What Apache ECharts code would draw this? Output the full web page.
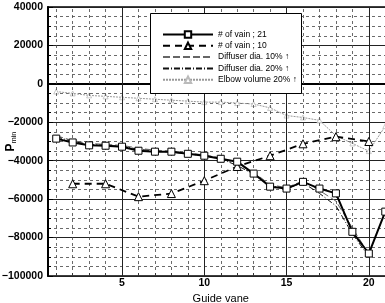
<!DOCTYPE html>
<html>
<head>
<meta charset="utf-8">
<script src="https://cdn.jsdelivr.net/npm/echarts@6/dist/echarts.min.js"></script>
<style>
  html, body { margin: 0; padding: 0; background: #fff; }
  #chart { width: 385px; height: 303px; }
</style>
</head>
<body>
<div id="chart"></div>
<script>
// guide vane index
const vanes = [1, 2, 3, 4, 5, 6, 7, 8, 9, 10, 11, 12, 13, 14, 15, 16, 17, 18, 19, 20, 21];
const vanesEven = [2, 4, 6, 8, 10, 12, 14, 16, 18, 20];
const vanesDiff = [1, 2, 3, 4, 5, 6, 7, 8, 9, 10, 11, 12, 13, 14, 15, 16, 17, 18, 19, 20];

// P_min values
const vain21 = [-28500, -30500, -32000, -32200, -32700, -34800, -35300, -35300, -36400, -37400,
  -39000, -40500, -46700, -53500, -54500, -51000, -54500, -57000, -77000, -88300, -66500];
const vain10 = [-52000, -52000, -58700, -57100, -50400, -43000, -37400, -31200, -27500, -30000];
const diff10 = [-27000, -29500, -31000, -31500, -32000, -33500, -34500, -35000, -36000, -37000,
  -38500, -41500, -46000, -52500, -54000, -50500, -55500, -61000, -75000, -88500];
const diff20 = [-27500, -30000, -31500, -32000, -32500, -34000, -35000, -35500, -36500, -37500,
  -39000, -42500, -47000, -53000, -54500, -51500, -57000, -63500, -78000, -90000];
const elbow = [-4000, -5000, -6000, -6500, -7000, -7500, -8000, -8500, -9000, -9500,
  -9500, -10000, -10500, -12500, -16500, -17500, -19000, -27000, -31000, -35000, -22000];

const xMajor = [5, 10, 15, 20];
const xMinor = vanes.filter(v => v % 5 !== 0);

const legendNames = ['# of vain ; 21', '# of vain ; 10', 'Diffuser dia. 10% ↑', 'Diffuser dia. 20% ↑', 'Elbow volume 20% ↑'];

function pairs(xs, ys){
  return xs.map((x, i) => [x, ys[i]])
}

let EChart = echarts.init(document.getElementById('chart'))
let option = {
  backgroundColor: '#fff',
  animation: false,
  textStyle: { fontFamily: 'Liberation Sans, Arial, sans-serif' },
  grid: {
    left: 48, top: 7, width: 345.5, bottom: 27,
    outerBoundsMode: 'none',
    show: true, borderColor: '#000', borderWidth: 1.5
  },
  // legend frame
  graphic: [{
    type: 'rect', z: 7, silent: true,
    shape: { x: 150.5, y: 13.5, width: 151, height: 80 },
    style: { fill: '#fff', stroke: '#000', lineWidth: 1 }
  }],
  legend: {
    data: [
      { name: legendNames[0] },
      { name: legendNames[1] },
      { name: legendNames[2], itemStyle: { opacity: 0 } },
      { name: legendNames[3], itemStyle: { opacity: 0 } },
      { name: legendNames[4] }
    ],
    z: 8,
    orient: 'vertical',
    left: 162, top: 30,
    itemWidth: 50, itemHeight: 8, itemGap: 2.3,
    padding: 0,
    selectedMode: false,
    textStyle: { fontSize: 8.5, lineHeight: 8, color: '#000' }
  },
  xAxis: [
    {
      type: 'value', min: 0.5, max: 21.5,
      name: 'Guide vane', nameLocation: 'middle', nameGap: 11,
      nameTextStyle: { fontSize: 11, color: '#000' },
      axisLine: { lineStyle: { color: '#000', width: 2 } },
      axisTick: { inside: true, length: 5, customValues: xMajor, lineStyle: { color: '#000' } },
      axisLabel: { customValues: xMajor, fontSize: 10.5, fontWeight: 'bold', color: '#000', margin: 2 },
      splitLine: { show: false }
    },
    {
      type: 'value', min: 0.5, max: 21.5, position: 'bottom', offset: 0,
      axisLine: { show: false },
      axisTick: { inside: true, length: 3, customValues: vanes, lineStyle: { color: '#000' } },
      axisLabel: { show: false },
      splitLine: { show: false }
    }
  ],
  yAxis: {
    type: 'value', min: -100000, max: 40000, interval: 20000,
    name: '{p|P}{s|min}', nameLocation: 'middle', nameGap: 30, nameRotate: 90,
    nameMoveOverlap: false,
    nameTextStyle: {
      color: '#000',
      rich: {
        p: { fontSize: 12, fontWeight: 'bold', color: '#000' },
        s: { fontSize: 7.5, color: '#000', padding: [7, 0, 0, 0] }
      }
    },
    axisLine: { show: true, lineStyle: { color: '#000', width: 2 } },
    axisTick: { inside: true, length: 5, lineStyle: { color: '#000' } },
    minorTick: { show: true, splitNumber: 4, length: 3, lineStyle: { color: '#000' } },
    axisLabel: {
      fontSize: 10.5, fontWeight: 'bold', color: '#000', margin: 5,
      formatter: v => String(v).replace('-', '\u2212')
    },
    splitLine: { lineStyle: { color: '#222', width: 1 } },
    minorSplitLine: { show: true, lineStyle: { color: '#444', width: 0.8, type: [3, 3] } }
  },
  series: [
    {
      // vertical grid lines
      type: 'line', data: [], silent: true, z: 1,
      markLine: {
        silent: true, symbol: ['none', 'none'], label: { show: false }, animation: false,
        data: xMinor.map(v => ({ xAxis: v, lineStyle: { color: '#444', width: 0.8, type: [3, 3] } }))
          .concat(xMajor.map(v => ({ xAxis: v, lineStyle: { color: '#222', width: 1, type: 'solid' } })))
      }
    },
    {
      name: legendNames[4], type: 'line', z: 3,
      data: pairs(vanes, elbow),
      symbol: 'triangle', symbolSize: 5, showSymbol: true,
      lineStyle: { color: '#999', width: 1, type: [2, 1] },
      itemStyle: { color: '#fff', borderColor: '#bbb', borderWidth: 0.8 }
    },
    {
      name: legendNames[2], type: 'line', z: 4,
      data: pairs(vanesDiff, diff10),
      symbol: 'none',
      lineStyle: { color: '#666', width: 1, type: [7, 3] },
      itemStyle: { color: '#666' }
    },
    {
      name: legendNames[3], type: 'line', z: 4,
      data: pairs(vanesDiff, diff20),
      symbol: 'none',
      lineStyle: { color: '#111', width: 1, type: [6, 2, 1, 2] },
      itemStyle: { color: '#111' }
    },
    {
      name: legendNames[1], type: 'line', z: 5,
      data: pairs(vanesEven, vain10),
      symbol: 'triangle', symbolSize: 8,
      lineStyle: { color: '#000', width: 1.8, type: [7, 5] },
      itemStyle: { color: '#fff', borderColor: '#000', borderWidth: 1 }
    },
    {
      name: legendNames[0], type: 'line', z: 6,
      data: pairs(vanes, vain21),
      symbol: 'rect', symbolSize: 7,
      lineStyle: { color: '#000', width: 2 },
      itemStyle: { color: '#fff', borderColor: '#000', borderWidth: 1 }
    }
  ]
}
EChart.setOption(option)
</script>
</body>
</html>
